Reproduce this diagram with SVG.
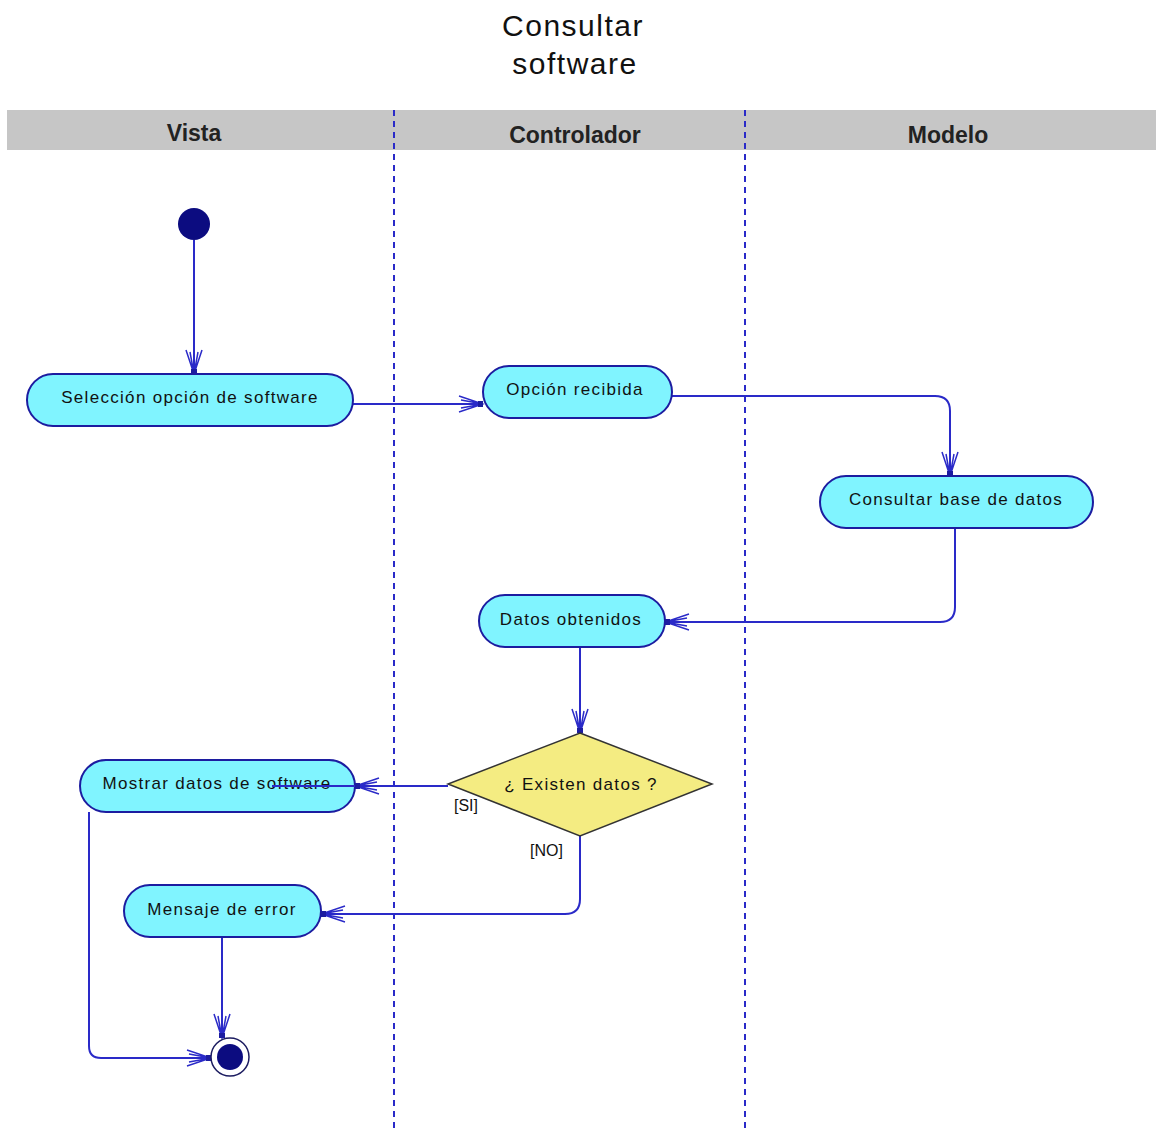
<svg xmlns="http://www.w3.org/2000/svg" width="1156" height="1130" viewBox="0 0 1156 1130">
  <style>
    .title { font-family: "Liberation Sans", Arial, sans-serif; font-size: 30px; fill: #111; text-anchor: middle; letter-spacing: 1.5px; }
    .lane { font-family: "Liberation Sans", Arial, sans-serif; font-size: 23px; font-weight: bold; fill: #222; text-anchor: middle; }
    .act rect { fill: #80f4ff; stroke: #1c1ca0; stroke-width: 2; }
    .act text, .dec text { font-family: "Liberation Sans", Arial, sans-serif; font-size: 17px; fill: #111; text-anchor: middle; dominant-baseline: central; letter-spacing: 1.3px; }
    .guard { font-family: "Liberation Sans", Arial, sans-serif; font-size: 16px; fill: #111; }
    .flow { fill: none; stroke: #2a2ac8; stroke-width: 2; }
    .divider { stroke: #2a2ac8; stroke-width: 2; stroke-dasharray: 6 5; }
  </style>
  <defs>
    <marker id="open" viewBox="0 0 30 20" refX="28" refY="10" markerWidth="30" markerHeight="20" markerUnits="userSpaceOnUse" orient="auto">
      <path d="M4 2 L28 10 L4 18 M6 6 L28 10 L6 14" fill="none" stroke="#2a2ac8" stroke-width="1.5"/>
      <rect x="23" y="7" width="5" height="6" fill="#1c1ca0"/>
    </marker>
  </defs>

  <rect width="1156" height="1130" fill="#ffffff"/>

  <!-- title -->
  <text class="title" x="573" y="36">Consultar</text>
  <text class="title" x="575" y="74">software</text>

  <!-- swimlane header -->
  <rect x="7" y="110" width="1149" height="40" fill="#c6c6c6"/>
  <text class="lane" x="194" y="141">Vista</text>
  <text class="lane" x="575" y="143">Controlador</text>
  <text class="lane" x="948" y="143">Modelo</text>
  <line class="divider" x1="394" y1="110" x2="394" y2="1130"/>
  <line class="divider" x1="745" y1="110" x2="745" y2="1130"/>

  <!-- connectors -->
  <g id="connectors">
    <path class="flow" d="M194 240 V374" marker-end="url(#open)"/>
    <path class="flow" d="M353 404 H483" marker-end="url(#open)"/>
    <path class="flow" d="M672 396 H935 Q950 396 950 411 V476" marker-end="url(#open)"/>
    <path class="flow" d="M955 528 V607 Q955 622 940 622 H665" marker-end="url(#open)"/>
    <path class="flow" d="M580 647 V733" marker-end="url(#open)"/>
    <path class="flow" d="M448 786 H355" marker-end="url(#open)"/>
    <path class="flow" d="M580 836 V899 Q580 914 565 914 H321" marker-end="url(#open)"/>
    <path class="flow" d="M222 937 V1038" marker-end="url(#open)"/>
    <path class="flow" d="M89 812 V1046 Q89 1058 101 1058 H211" marker-end="url(#open)"/>
  </g>

  <!-- initial node -->
  <g id="start">
    <circle cx="194" cy="224" r="16" fill="#0c0c80"/>
  </g>

  <g id="seleccion" class="act">
    <rect x="27" y="374" width="326" height="52" rx="26"/>
    <text x="190" y="397">Selección opción de software</text>
  </g>

  <g id="opcion" class="act">
    <rect x="483" y="366" width="189" height="52" rx="26"/>
    <text x="575" y="389">Opción recibida</text>
  </g>

  <g id="consultar" class="act">
    <rect x="820" y="476" width="273" height="52" rx="26"/>
    <text x="956" y="499">Consultar base de datos</text>
  </g>

  <g id="datos" class="act">
    <rect x="479" y="595" width="186" height="52" rx="26"/>
    <text x="571" y="619">Datos obtenidos</text>
  </g>

  <g id="existen" class="dec">
    <polygon points="580,733 712,784 580,836 448,784" fill="#f4ec82" stroke="#333" stroke-width="1.5"/>
    <text x="581" y="784">¿ Existen datos ?</text>
  </g>
  <text class="guard" x="454" y="811">[SI]</text>
  <text class="guard" x="530" y="856">[NO]</text>

  <g id="mostrar" class="act">
    <rect x="80" y="760" width="275" height="52" rx="26"/>
    <text x="217" y="783">Mostrar datos de software</text>
  </g>
  <!-- the [SI] flow line continues over the label -->
  <path class="flow" d="M355 786 H272"/>

  <g id="error" class="act">
    <rect x="124" y="885" width="197" height="52" rx="26"/>
    <text x="222" y="909">Mensaje de error</text>
  </g>

  <!-- final node -->
  <g id="end">
    <circle cx="230" cy="1057" r="19" fill="#ffffff" stroke="#1c1c60" stroke-width="1.5"/>
    <circle cx="230" cy="1057" r="13" fill="#0c0c80"/>
  </g>
</svg>
